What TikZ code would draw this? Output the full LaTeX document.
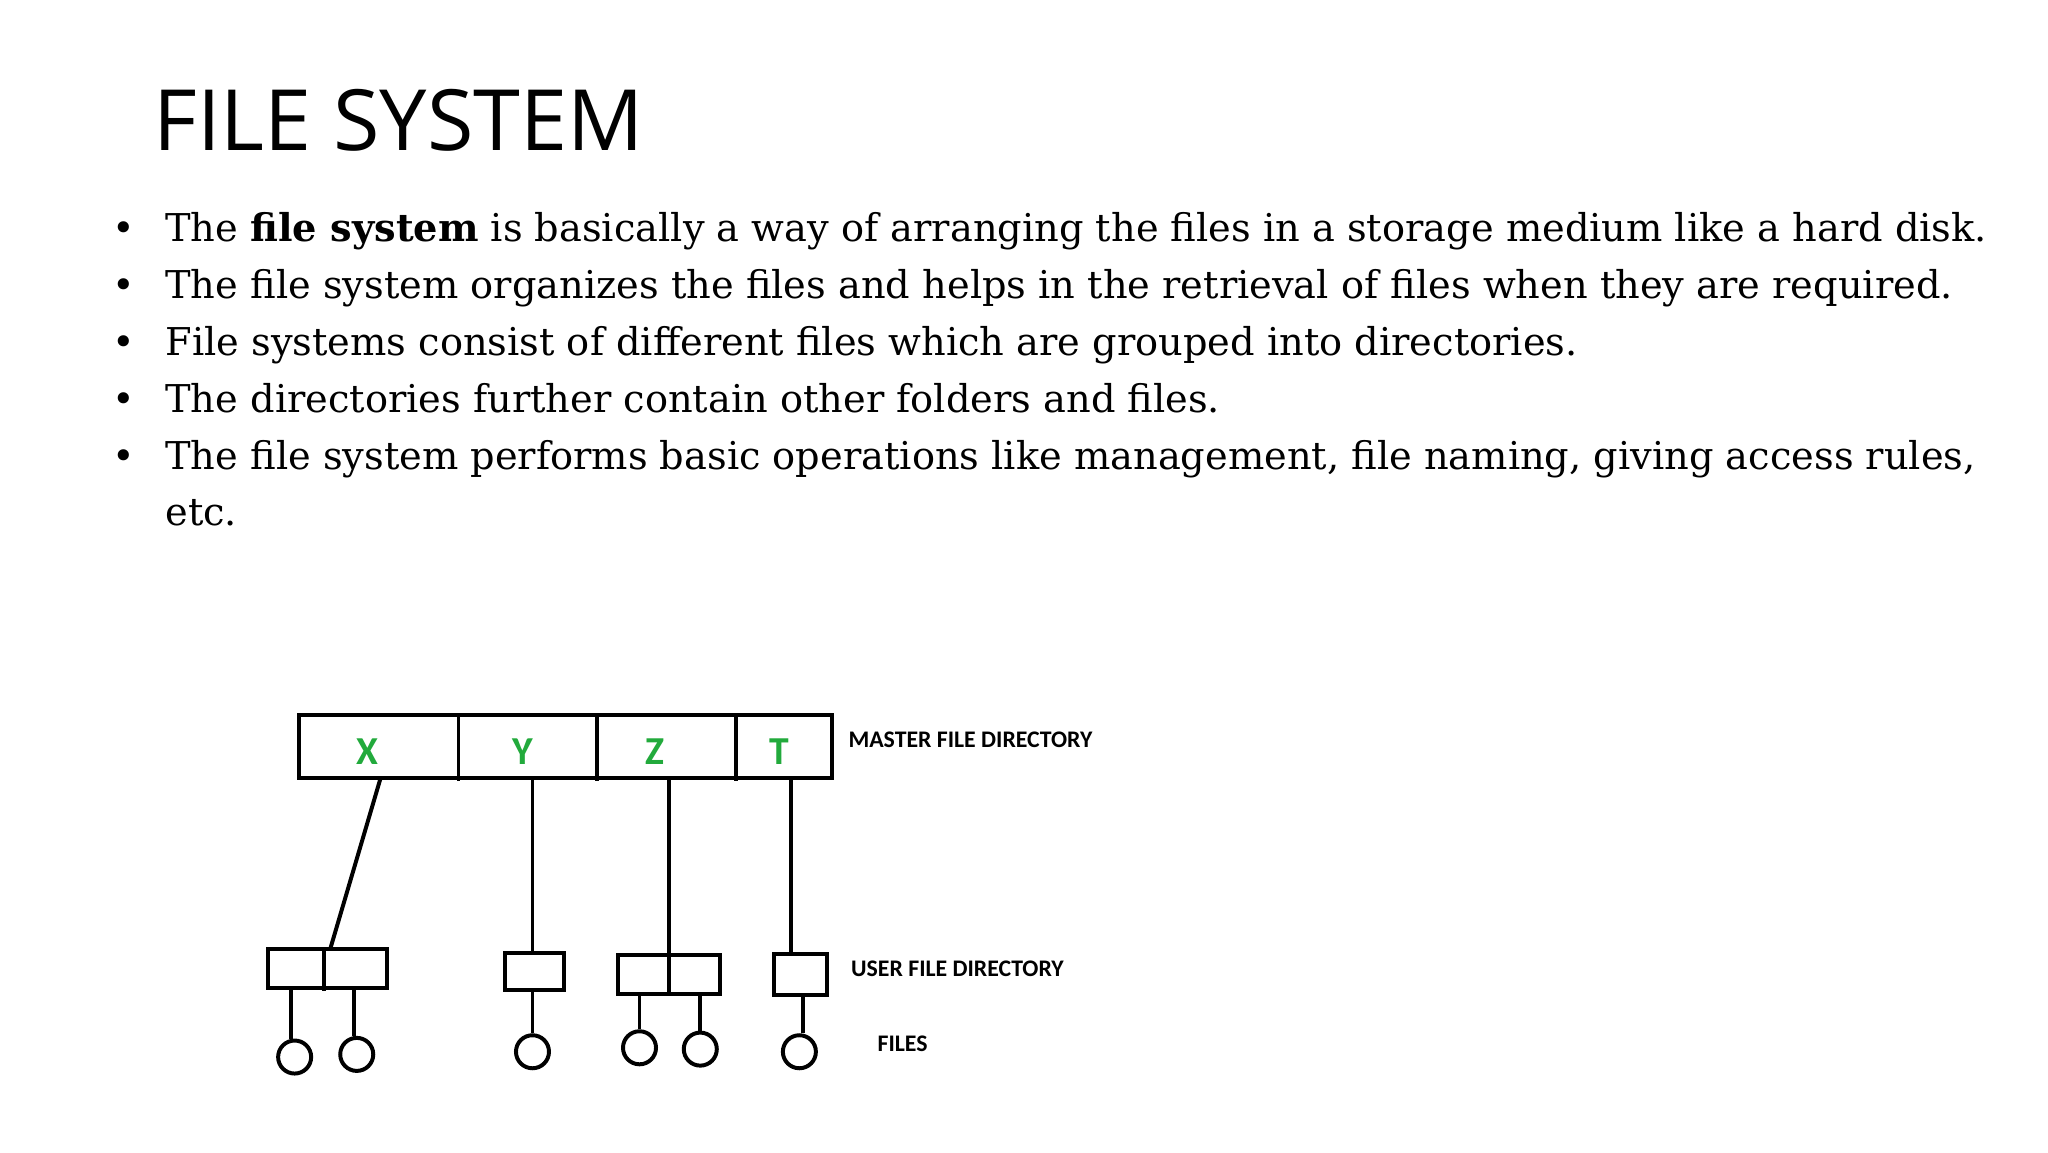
\documentclass[tikz,border=0pt]{standalone}
\usepackage{fontspec}
\setmainfont{DejaVu Serif}
\newfontfamily\titlefont{Open Sans}
\newfontfamily\labfont{Carlito}
\definecolor{lgreen}{RGB}{34,170,60}
\begin{document}
\begin{tikzpicture}[x=1pt,y=-1pt,
  body/.style={anchor=base west,inner sep=0pt,font=\fontsize{29}{34}\selectfont},
  bul/.style={anchor=base,inner sep=0pt,font=\fontsize{29}{34}\selectfont},
  lab/.style={anchor=west,inner sep=0pt,font=\labfont\bfseries\fontsize{18}{20}\selectfont},
  letter/.style={inner sep=0pt,text=lgreen,font=\labfont\bfseries\fontsize{30}{32}\selectfont},
  ln/.style={line width=3pt},
  fcirc/.style={circle,draw,line width=3pt,minimum size=25pt,inner sep=0pt}]
\useasboundingbox (0,0) rectangle (1550,872);
\node[anchor=base west,inner sep=0pt,font=\titlefont\fontsize{64}{70}\selectfont] (title) at (116,114) {FILE SYSTEM};
\foreach \y/\t [count=\i] in {183/{The \textbf{file system} is basically a way of arranging the files in a storage medium like a hard disk.},
 226/{The file system organizes the files and helps in the retrieval of files when they are required.},
 269/{File systems consist of different files which are grouped into directories.},
 312/{The directories further contain other folders and files.},
 355/{The file system performs basic operations like management, file naming, giving access rules,}}{
 \node[bul] (b\i) at (94,\y) {•};
 \node[body] (t\i) at (125,\y) {\t};}
\node[body] (t6) at (125,398) {etc.};
% master directory
\draw[ln] (226,541) rectangle (630,589);
\foreach \x in {347,452,557} \draw[ln] (\x,541) -- (\x,591);
\node[letter] (X) at (278,569) {X};
\node[letter] (Y) at (396,569) {Y};
\node[letter] (Z) at (496,569) {Z};
\node[letter] (T) at (590,569) {T};
\node[lab] (mfd) at (642,560) {MASTER FILE DIRECTORY};
\node[lab] (ufd) at (644,733) {USER FILE DIRECTORY};
\node[lab] (files) at (664,790) {FILES};
% user directories
\draw[ln] (203,718) rectangle (293,748); \draw[ln] (245,718) -- (245,750);
\draw[ln] (382,721) rectangle (427,749);
\draw[ln] (468,723) rectangle (545,752); \draw[ln] (506,723) -- (506,752);
\draw[ln] (586,722) rectangle (626,753);
\coordinate (xa) at (288,589); \coordinate (xb) at (250,718);
\draw[ln] (xa) -- (xb);
\draw[ln] (403,589) -- (403,721);
\draw[ln] (506,589) -- (506,723);
\draw[ln] (599,589) -- (599,722);
% files
\foreach \n/\cx/\cy/\lx/\ly in {f1/223/800/220/748, f2/270/798/268/748, f3/403/796/403/749, f4/484/793/484/752, f5/530/794/530/752, f6/605/796/608/753}{
 \node[fcirc] (\n) at (\cx,\cy) {};
 \coordinate (\n t) at (\lx,\ly);
 \draw[ln] (\n t) -- (\n t |- \n.north);}
\end{tikzpicture}
\end{document}
